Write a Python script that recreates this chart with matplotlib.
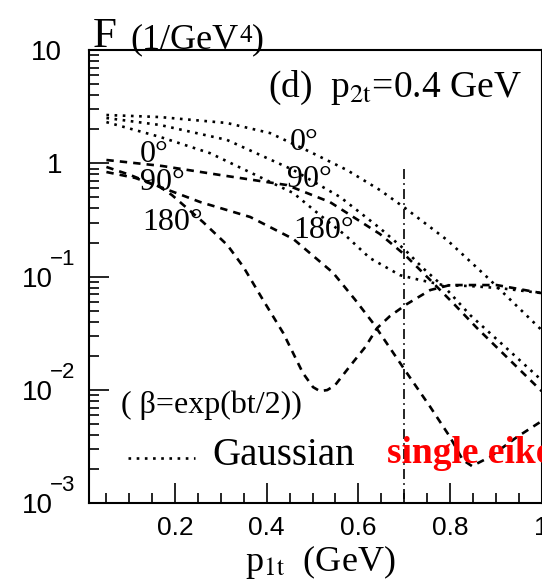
import matplotlib
matplotlib.use('Agg')
import matplotlib.pyplot as plt
from matplotlib import transforms
from matplotlib.ticker import MultipleLocator, LogLocator, NullFormatter

# values
p1t = [0.05, 0.167, 0.313, 0.407, 0.495, 0.575, 0.647, 0.702, 0.794, 0.881, 1.0]
gauss_0 = [2.67, 2.56, 2.27, 1.85, 1.26, 0.873, 0.581, 0.403, 0.210, 0.099, 0.0338]

p1t_g90 = [0.05, 0.167, 0.313, 0.458, 0.56, 0.647, 0.702, 0.741, 0.794, 0.844, 0.916, 1.0]
gauss_90 = [2.51, 2.18, 1.61, 0.873, 0.505, 0.268, 0.172, 0.119, 0.0762, 0.0458, 0.0249, 0.0122]

p1t_g180 = [0.05, 0.167, 0.276, 0.385, 0.458, 0.516, 0.571, 0.625, 0.691, 0.735, 0.785,
            0.844, 0.909, 1.0]
gauss_180 = [2.31, 1.71, 1.23, 0.757, 0.547, 0.350, 0.233, 0.146, 0.103, 0.0933, 0.0843,
             0.0826, 0.0792, 0.0716]

p1t_e0 = [0.05, 0.172, 0.298, 0.444, 0.538, 0.647, 0.702, 0.757, 0.811, 0.859, 0.924, 1.0]
eik_0 = [1.07, 0.947, 0.789, 0.643, 0.455, 0.238, 0.155, 0.0933, 0.0561, 0.0352, 0.0195,
         0.00977]

p1t_e90 = [0.05, 0.102, 0.156, 0.255, 0.364, 0.458, 0.545, 0.593, 0.632, 0.706, 0.757,
           0.8, 0.828, 0.848, 0.887, 0.946, 1.0]
eik_90 = [0.929, 0.789, 0.644, 0.455, 0.336, 0.215, 0.108, 0.0625, 0.039, 0.0141, 0.00708,
          0.00385, 0.00241, 0.00213, 0.00256, 0.00384, 0.00531]

p1t_e180 = [0.05, 0.113, 0.167, 0.193, 0.261, 0.314, 0.349, 0.392, 0.436, 0.479, 0.501,
            0.516, 0.532, 0.549, 0.582, 0.615, 0.641, 0.669, 0.706, 0.757, 0.8, 0.902, 1.0]
eik_180 = [0.838, 0.743, 0.618, 0.525, 0.303, 0.190, 0.122, 0.0622, 0.0318, 0.0141, 0.0106,
           0.00977, 0.00998, 0.0110, 0.0163, 0.0239, 0.0352, 0.0449, 0.0573, 0.0762,
           0.0843, 0.0843, 0.0716]

cut_x = 0.7
cut_top = 0.9

xticks = [0.2, 0.4, 0.6, 0.8, 1.0]
xtick_labels = ['0.2', '0.4', '0.6', '0.8', '1']
yticks = [10, 1, 0.1, 0.01, 0.001]
ytick_base = ['10', '1', '10', '10', '10']
ytick_exp = ['', '', '\u22121', '\u22122', '\u22123']

W, H = 542, 584
SERIF = 'Liberation Serif'
SANS = 'Liberation Sans'


def fp(x, y):
    """pixel position -> figure fraction"""
    return x / W, 1 - y / H


fig = plt.figure(figsize=(W / 100, H / 100), dpi=100)
ax = fig.add_axes([89 / W, 1 - 503.3 / H, 452.6 / W, 453.3 / H])
ax.set_yscale('log')
ax.set_xlim(0.012, 1.0)
ax.set_ylim(1e-3, 10)

dotted = (0, (1.0, 2.1))
dashed = (0, (2.8, 2.3))
lw = 1.9

ax.plot(p1t, gauss_0, color='black', lw=lw, ls=dotted)
ax.plot(p1t_g90, gauss_90, color='black', lw=lw, ls=dotted)
ax.plot(p1t_g180, gauss_180, color='black', lw=lw, ls=dotted)
ax.plot(p1t_e0, eik_0, color='black', lw=lw, ls=dashed)
ax.plot(p1t_e90, eik_90, color='black', lw=lw, ls=dashed)
ax.plot(p1t_e180, eik_180, color='black', lw=lw, ls=dashed)
ax.plot([cut_x, cut_x], [cut_top, 1e-3], color='black', lw=1.2,
        ls=(0, (6, 2.5, 1, 2.5)))

# frame and ticks (ROOT style)
for side in ['top', 'right', 'left', 'bottom']:
    ax.spines[side].set_linewidth(1.5)
ax.xaxis.set_minor_locator(MultipleLocator(0.05))
ax.set_xticks(xticks)
ax.set_xticklabels(xtick_labels, fontfamily=SANS, fontsize=19)
ax.yaxis.set_major_locator(LogLocator(base=10))
ax.yaxis.set_minor_locator(LogLocator(base=10, subs=range(2, 10)))
ax.yaxis.set_major_formatter(NullFormatter())
ax.yaxis.set_minor_formatter(NullFormatter())
ax.tick_params(which='both', direction='in', top=False, right=False, width=1.2)
ax.tick_params(which='major', length=14.4)
ax.tick_params(which='minor', length=7.2)
ax.tick_params(axis='x', which='major', pad=9)

# y tick labels in ROOT layout, placed on the axis scale
ytr = ax.get_yaxis_transform()
for val, base, exp in zip(yticks, ytick_base, ytick_exp):
    if exp:
        tb = transforms.offset_copy(ytr, fig=fig, x=-36, y=-10, units='dots')
        te = transforms.offset_copy(ytr, fig=fig, x=-39, y=12, units='dots')
        ax.text(0, val, base, transform=tb, ha='right', va='baseline',
                fontfamily=SANS, fontsize=20)
        ax.text(0, val, exp, transform=te, ha='left', va='baseline',
                fontfamily=SANS, fontsize=16)
    else:
        tb = transforms.offset_copy(ytr, fig=fig, x=-27, y=-10, units='dots')
        ax.text(0, val, base, transform=tb, ha='right', va='baseline',
                fontfamily=SANS, fontsize=20)

# titles and axis labels
fig.text(*fp(93, 47), 'F', fontfamily=SERIF, fontsize=31, va='baseline')
fig.text(*fp(130, 48), '(1/GeV', fontfamily=SERIF, fontsize=26, va='baseline')
fig.text(*fp(239, 42), '4', fontfamily=SERIF, fontsize=18, va='baseline')
fig.text(*fp(252, 48), ')', fontfamily=SERIF, fontsize=26, va='baseline')
fig.text(*fp(268, 97), r'(d)  p$_{\mathrm{2t}}$=0.4 GeV', fontfamily=SERIF, fontsize=27,
         va='baseline', math_fontfamily='stix')
fig.text(*fp(245, 571), r'p$_{\mathrm{1t}}$  (GeV)', fontfamily=SERIF, fontsize=26,
         va='baseline', math_fontfamily='stix')

# angle labels on the curves
angle_labels = [('0°', 140, 162), ('90°', 140, 190), ('180°', 142, 230),
                ('0°', 290, 150), ('90°', 287, 187), ('180°', 293, 238)]
for lab, x, y in angle_labels:
    fig.text(*fp(x, y), lab, fontfamily=SERIF, fontsize=23, va='baseline')

fig.text(*fp(121, 413), '( β=exp(bt/2))', fontfamily=SERIF, fontsize=23, va='baseline')
ax.plot([0.086, 0.234], [0.1, 0.1], transform=ax.transAxes, color='black', lw=lw,
        ls=dotted)
fig.text(*fp(212, 465), 'Gaussian', fontfamily=SERIF, fontsize=28, va='baseline')
fig.text(*fp(387, 463), 'single eikonal', fontfamily=SERIF, fontsize=27,
         fontweight='bold', color='red', va='baseline')

fig.savefig('out.png', dpi=100)
